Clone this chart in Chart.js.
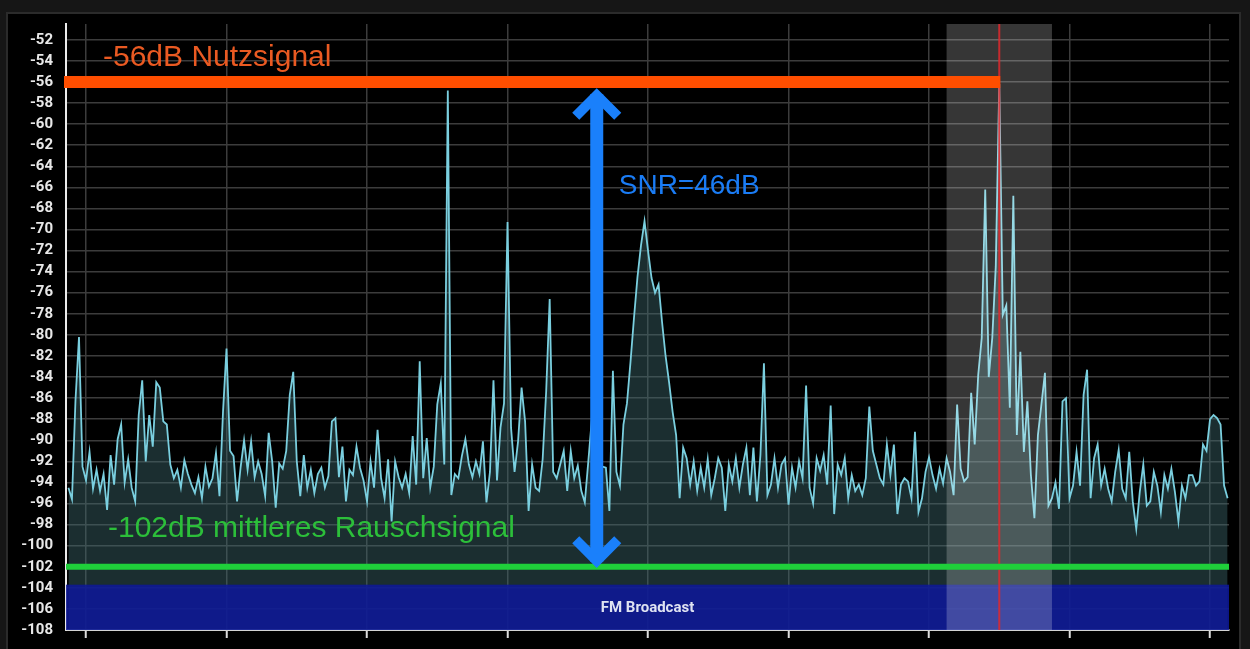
<!DOCTYPE html>
<html>
<head>
<meta charset="utf-8">
<title>FM Spektrum SNR</title>
<script src="https://cdn.jsdelivr.net/npm/chart.js@4.4.1/dist/chart.umd.min.js"></script>
<style>
  html, body { margin: 0; padding: 0; background: #161616; overflow: hidden; }
  #frame {
    position: absolute; left: 6px; top: 12px; width: 1235px; height: 660px;
    background: #000; border: 2px solid #2b2b2b; box-sizing: border-box;
  }
  #wrap { position: absolute; left: 0; top: 0; width: 1250px; height: 649px; }
</style>
</head>
<body>
<div id="frame"></div>
<div id="wrap"><canvas id="chart"></canvas></div>
<script>
// --- Data ---

// frequency axis, MHz
const xMin = 97.9715;
const xMax = 99.627;
const xGrid = [98.0, 98.2, 98.4, 98.6, 98.8, 99.0, 99.2, 99.4, 99.6];

// level axis, dB
const yMin = -108;
const yMax = -50.5;
const yTicks = [-108, -106, -104, -102, -100, -98, -96, -94, -92, -90, -88, -86, -84, -82, -80,
                -78, -76, -74, -72, -70, -68, -66, -64, -62, -60, -58, -56, -54, -52];

// FFT bins: first bin frequency and bin width (MHz)
const binStart = 97.975;
const binWidth = 0.005;

// spectrum level per bin, dB
const spectrumDb = [
  -94.5, -95.6, -86.2, -80.2, -92.5, -93.8, -91.1, -94.6, -92.8, -94.8,
  -93.2, -96.6, -91.4, -94.2, -89.9, -88.5, -94.0, -91.8, -94.5, -95.8,
  -87.6, -84.3, -92.0, -87.6, -90.6, -84.5, -85.0, -88.2, -88.5, -92.3,
  -93.6, -92.8, -94.5, -91.9, -93.2, -94.2, -95.0, -93.5, -95.5, -92.5,
  -94.4, -93.6, -91.2, -95.3, -87.3, -81.3, -91.0, -91.5, -95.8, -92.6,
  -90.0, -92.8, -90.1, -93.5, -92.0, -93.2, -95.3, -89.3, -92.0, -96.4,
  -92.2, -92.7, -91.0, -85.7, -83.5, -92.0, -95.3, -91.4, -94.5, -92.8,
  -95.0, -93.2, -92.6, -94.5, -93.4, -88.2, -87.9, -93.5, -90.6, -95.8,
  -92.8, -93.3, -90.6, -92.6, -93.8, -95.8, -92.0, -94.5, -89.0, -93.6,
  -95.5, -91.8, -97.7, -92.0, -93.5, -94.5, -93.2, -95.0, -89.6, -94.2,
  -82.5, -93.6, -89.8, -94.5, -92.5, -86.6, -84.6, -92.3, -56.8, -95.2,
  -93.2, -93.6, -91.5, -89.9, -92.3, -93.5, -92.0, -93.2, -90.1, -95.9,
  -93.0, -84.3, -93.8, -88.8, -86.5, -69.3, -88.8, -93.0, -90.1, -85.0,
  -88.2, -96.7, -92.3, -94.5, -94.8, -91.8, -85.4, -76.6, -93.0, -93.6,
  -92.3, -91.0, -94.8, -91.0, -93.6, -92.4, -94.8, -95.9, -92.0, -88.0,
  -94.0, -93.0, -92.5, -92.6, -96.7, -83.4, -93.0, -94.3, -88.5, -86.5,
  -82.6, -78.4, -74.5, -71.5, -69.2, -72.0, -74.6, -76.0, -75.2, -78.8,
  -82.0, -84.5, -87.3, -89.5, -95.5, -90.7, -91.7, -94.2, -92.0, -94.8,
  -92.6, -94.5, -91.8, -95.2, -93.6, -91.7, -92.6, -96.7, -92.3, -93.9,
  -91.7, -94.5, -92.3, -90.7, -95.2, -90.7, -95.8, -91.4, -82.7, -95.2,
  -94.2, -91.7, -94.5, -92.3, -91.7, -96.1, -92.6, -94.5, -92.0, -93.6,
  -84.8, -94.5, -96.0, -91.7, -92.9, -91.4, -94.2, -86.7, -97.0, -92.3,
  -93.3, -91.7, -95.5, -93.3, -94.8, -94.2, -95.2, -93.6, -86.8, -91.0,
  -92.3, -93.6, -94.2, -90.4, -93.3, -90.4, -97.0, -94.2, -93.6, -93.9,
  -95.5, -89.2, -96.8, -95.5, -93.0, -91.6, -93.3, -94.6, -92.7, -94.1,
  -91.7, -93.0, -95.2, -86.6, -92.7, -93.9, -93.5, -85.5, -90.4, -83.8,
  -80.3, -66.2, -84.0, -80.3, -73.5, -56.2, -78.1, -77.2, -86.9, -66.8,
  -89.5, -81.6, -91.1, -86.3, -93.3, -97.4, -89.5, -86.6, -83.6, -96.2,
  -95.5, -94.0, -96.5, -86.3, -86.0, -95.5, -94.3, -91.1, -94.3, -85.7,
  -83.3, -95.5, -91.7, -90.4, -94.3, -92.7, -94.6, -95.8, -93.0, -90.9,
  -94.6, -95.5, -91.1, -95.8, -98.4, -94.9, -92.3, -96.2, -95.8, -93.0,
  -94.3, -96.8, -93.3, -94.6, -92.7, -94.9, -97.7, -94.3, -95.5, -93.3,
  -93.3, -94.3, -93.9, -90.4, -91.0, -88.0, -87.6, -87.9, -88.5, -94.3,
  -95.5
];

// markers
const signalDb = -56;          // Nutzsignal
const noiseDb = -102;          // mittleres Rauschsignal
const tunedFreq = 99.3;        // red marker
const filterLow = 99.225;      // receiver bandwidth (grey)
const filterHigh = 99.375;
const arrowFreq = 98.727;
const arrowTopDb = -56.6;
const arrowBottomDb = -102.1;
const bandTopDb = -103.7;      // FM broadcast band plan strip
const bandBottomDb = -108;

const signalLabel = '-56dB Nutzsignal';
const noiseLabel = '-102dB mittleres Rauschsignal';
const snrLabel = 'SNR=46dB';
const bandLabel = 'FM Broadcast';

// --- Overlay drawing (bands, marker lines, arrow, labels) ---
const overlay = {
  id: 'overlay',
  afterDatasetsDraw(chart) {
    const { ctx, chartArea: a, scales: { x, y } } = chart;
    ctx.save();

    // band plan strip
    const bTop = y.getPixelForValue(bandTopDb);
    const bBot = y.getPixelForValue(bandBottomDb);
    ctx.fillStyle = 'rgba(14, 24, 150, 0.88)';
    ctx.fillRect(a.left, bTop, a.right - a.left, bBot - bTop);
    ctx.fillStyle = '#dfe3f2';
    ctx.font = 'bold 15px Roboto';
    ctx.textAlign = 'center';
    ctx.textBaseline = 'middle';
    ctx.fillText(bandLabel, (a.left + a.right) / 2, (bTop + bBot) / 2 + 1);

    // receiver filter window
    const fL = x.getPixelForValue(filterLow);
    const fH = x.getPixelForValue(filterHigh);
    ctx.fillStyle = 'rgba(255, 255, 255, 0.21)';
    ctx.fillRect(fL, a.top, fH - fL, a.bottom - a.top);

    // tuned frequency
    const tx = x.getPixelForValue(tunedFreq);
    ctx.strokeStyle = 'rgba(225, 40, 45, 0.85)';
    ctx.lineWidth = 2;
    ctx.beginPath();
    ctx.moveTo(tx, a.top);
    ctx.lineTo(tx, a.bottom);
    ctx.stroke();

    // noise level
    const ny = y.getPixelForValue(noiseDb);
    ctx.strokeStyle = '#1fcf3a';
    ctx.lineWidth = 6;
    ctx.beginPath();
    ctx.moveTo(a.left, ny);
    ctx.lineTo(a.right, ny);
    ctx.stroke();

    // signal level
    const sy = y.getPixelForValue(signalDb);
    ctx.strokeStyle = '#ff4e00';
    ctx.lineWidth = 12;
    ctx.beginPath();
    ctx.moveTo(a.left - 2, sy);
    ctx.lineTo(tx + 1, sy);
    ctx.stroke();

    // SNR arrow
    const ax = x.getPixelForValue(arrowFreq);
    const at = y.getPixelForValue(arrowTopDb);
    const ab = y.getPixelForValue(arrowBottomDb);
    ctx.strokeStyle = '#1a80fb';
    ctx.lineWidth = 13;
    ctx.lineCap = 'butt';
    ctx.beginPath();
    ctx.moveTo(ax, at + 6);
    ctx.lineTo(ax, ab - 6);
    ctx.stroke();
    ctx.lineWidth = 10;
    ctx.lineJoin = 'miter';
    ctx.beginPath();
    ctx.moveTo(ax - 21, at + 28);
    ctx.lineTo(ax, at + 7);
    ctx.lineTo(ax + 21, at + 28);
    ctx.stroke();
    ctx.beginPath();
    ctx.moveTo(ax - 21, ab - 28);
    ctx.lineTo(ax, ab - 7);
    ctx.lineTo(ax + 21, ab - 28);
    ctx.stroke();

    // labels
    ctx.textAlign = 'left';
    ctx.textBaseline = 'alphabetic';
    ctx.font = '30px "Liberation Sans"';
    ctx.fillStyle = '#ea5a22';
    ctx.fillText(signalLabel, a.left + 37, sy - 16);
    ctx.fillStyle = '#2cbf3a';
    ctx.fillText(noiseLabel, a.left + 42, ny - 30);
    ctx.font = '28px "Liberation Sans"';
    ctx.fillStyle = '#1a7cf5';
    ctx.fillText(snrLabel, ax + 22, sy + 112);

    ctx.restore();
  }
};

new Chart(document.getElementById('chart'), {
  type: 'line',
  data: {
    datasets: [{
      data: spectrumDb.map((v, i) => ({ x: binStart + i * binWidth, y: v })),
      borderColor: '#7acfdf',
      borderWidth: 1.8,
      backgroundColor: 'rgba(64, 110, 115, 0.42)',
      fill: 'start',
      pointRadius: 0,
      tension: 0
    }]
  },
  options: {
    responsive: true,
    maintainAspectRatio: false,
    animation: false,
    layout: { padding: { left: 0, top: 24, right: 21, bottom: 0 } },
    plugins: {
      legend: { display: false },
      tooltip: { enabled: false }
    },
    scales: {
      x: {
        type: 'linear',
        min: xMin,
        max: xMax,
        afterBuildTicks: s => { s.ticks = xGrid.map(v => ({ value: v })); },
        afterFit: s => { s.height = 19; },
        ticks: { display: false },
        grid: { color: '#3c3c3c', lineWidth: 1.5, tickLength: 8, tickColor: '#dcdcdc', tickWidth: 2 },
        border: { color: '#d4d4d4', width: 2 }
      },
      y: {
        min: yMin,
        max: yMax,
        afterBuildTicks: s => { s.ticks = yTicks.map(v => ({ value: v })); },
        afterFit: s => { s.width = 66; },
        ticks: {
          color: '#e8e8e8',
          autoSkip: false,
          padding: 0,
          font: { family: 'Roboto', weight: 'bold', size: 15 }
        },
        grid: { color: '#3c3c3c', lineWidth: 1.5, drawTicks: true, tickLength: 13, tickColor: 'rgba(0,0,0,0)' },
        border: { color: '#ececec', width: 2 }
      }
    }
  },
  plugins: [overlay]
});
</script>
</body>
</html>
